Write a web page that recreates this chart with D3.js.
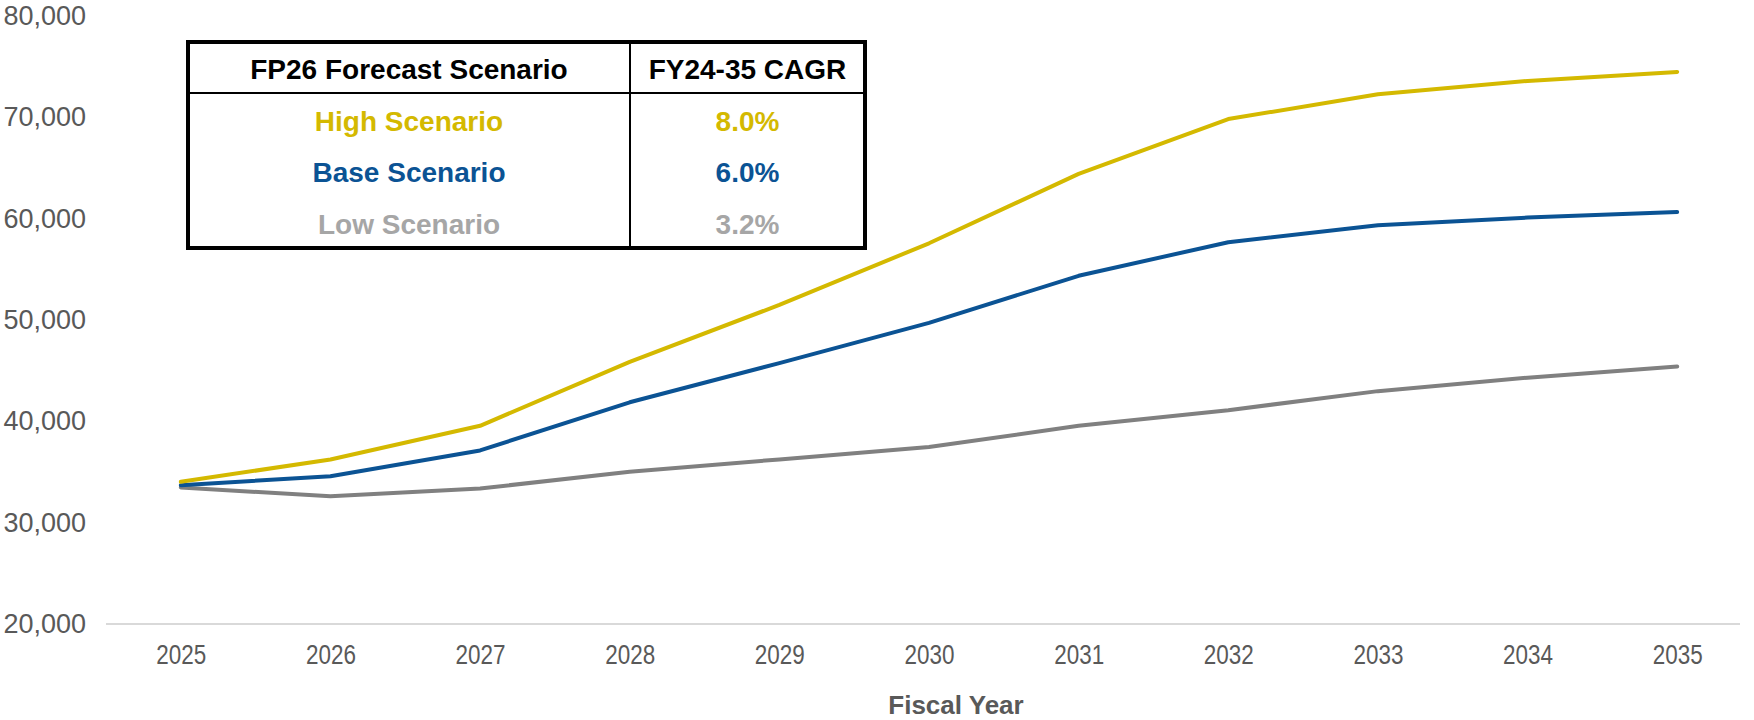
<!DOCTYPE html>
<html>
<head>
<meta charset="utf-8">
<script src="https://cdn.jsdelivr.net/npm/d3@7"></script>
<style>
  body { margin: 0; background: #fff; }
  text { font-family: Arial, "Liberation Sans", sans-serif; }
</style>
</head>
<body>
<script>
// Chart data
var years = ["2025", "2026", "2027", "2028", "2029", "2030", "2031", "2032", "2033", "2034", "2035"];
var highValues = [34030, 36240, 39560, 45860, 51490, 57570, 64420, 69830, 72270, 73590, 74480];
var baseValues = [33700, 34590, 37130, 41880, 45750, 49720, 54360, 57680, 59340, 60110, 60660];
var lowValues = [33480, 32600, 33370, 35030, 36240, 37460, 39560, 41100, 42980, 44310, 45410];
var yTicks = [20000, 30000, 40000, 50000, 60000, 70000, 80000];

// Table in the corner
var tableHeader = ["FP26 Forecast Scenario", "FY24-35 CAGR"];
var scenarioNames = ["High Scenario", "Base Scenario", "Low Scenario"];
var cagrLabels = ["8.0%", "6.0%", "3.2%"];

var lineColors = ["#d4b900", "#0b5394", "#808080"];
var tableTextColors = ["#d4b900", "#0b5394", "#a6a6a6"];

// SVG size
var svg_Width = 1754;
var svg_Height = 720;

var svg = d3.select("body")
  .append("svg")
  .attr("width", svg_Width)
  .attr("height", svg_Height);

// Scales
var x_scale = d3.scalePoint()
  .domain(years)
  .range([106, 1752])
  .padding(0.5);

var y_scale = d3.scaleLinear()
  .domain([20000, 80000])
  .range([624, 16]);

// Baseline
svg.append("line")
  .attr("x1", 106)
  .attr("x2", 1740)
  .attr("y1", y_scale(20000))
  .attr("y2", y_scale(20000))
  .attr("stroke", "#d9d9d9")
  .attr("stroke-width", 2);

// Y axis labels
var left_Axis = d3.axisLeft(y_scale)
  .tickValues(yTicks)
  .tickFormat(d3.format(","))
  .tickSize(0)
  .tickPadding(0);

svg.append("g")
  .attr("transform", "translate(86, 0)")
  .call(left_Axis)
  .call(g => g.select(".domain").remove())
  .selectAll("text")
  .attr("fill", "#595959")
  .style("font-size", "27px");

// X axis labels (narrow, tall digits like the original)
var bottom_Axis = d3.axisBottom(x_scale)
  .tickSize(0)
  .tickPadding(0);

svg.append("g")
  .attr("transform", "translate(0, 645)")
  .call(bottom_Axis)
  .call(g => g.select(".domain").remove())
  .selectAll("text")
  .attr("fill", "#595959")
  .attr("textLength", 50)
  .attr("lengthAdjust", "spacingAndGlyphs")
  .style("font-size", "27px");

// Axis title
svg.append("text")
  .attr("x", 956)
  .attr("y", 714)
  .attr("text-anchor", "middle")
  .attr("fill", "#595959")
  .style("font-size", "26px")
  .style("font-weight", "bold")
  .text("Fiscal Year");

// Lines
var series = [highValues, baseValues, lowValues];

var lineGen = d3.line()
  .x((d, i) => x_scale(years[i]))
  .y(d => y_scale(d));

// draw low first so high sits on top like the original
[2, 1, 0].forEach(function(k) {
  svg.append("path")
    .datum(series[k])
    .attr("d", lineGen)
    .attr("fill", "none")
    .attr("stroke", lineColors[k])
    .attr("stroke-width", 4)
    .attr("stroke-linecap", "round")
    .attr("stroke-linejoin", "round");
});

// Scenario table
var tbl = { left: 188, top: 42, right: 865, bottom: 248, split: 630, headBottom: 93 };

svg.append("rect")
  .attr("x", tbl.left)
  .attr("y", tbl.top)
  .attr("width", tbl.right - tbl.left)
  .attr("height", tbl.bottom - tbl.top)
  .attr("fill", "#fff")
  .attr("stroke", "#000")
  .attr("stroke-width", 4);

svg.append("line")
  .attr("x1", tbl.left).attr("x2", tbl.right)
  .attr("y1", tbl.headBottom).attr("y2", tbl.headBottom)
  .attr("stroke", "#000").attr("stroke-width", 2);

svg.append("line")
  .attr("x1", tbl.split).attr("x2", tbl.split)
  .attr("y1", tbl.top).attr("y2", tbl.bottom)
  .attr("stroke", "#000").attr("stroke-width", 2);

var col1 = (tbl.left + tbl.split) / 2;
var col2 = (tbl.split + tbl.right) / 2;

svg.append("text")
  .attr("x", col1).attr("y", 69)
  .attr("dy", "0.35em")
  .attr("text-anchor", "middle")
  .style("font-size", "28px").style("font-weight", "bold")
  .text(tableHeader[0]);

svg.append("text")
  .attr("x", col2).attr("y", 69)
  .attr("dy", "0.35em")
  .attr("text-anchor", "middle")
  .style("font-size", "28px").style("font-weight", "bold")
  .text(tableHeader[1]);

var rowY = [121, 172, 224];

scenarioNames.forEach(function(name, i) {
  svg.append("text")
    .attr("x", col1).attr("y", rowY[i])
    .attr("dy", "0.35em")
    .attr("text-anchor", "middle")
    .attr("fill", tableTextColors[i])
    .style("font-size", "28px").style("font-weight", "bold")
    .text(name);

  svg.append("text")
    .attr("x", col2).attr("y", rowY[i])
    .attr("dy", "0.35em")
    .attr("text-anchor", "middle")
    .attr("fill", tableTextColors[i])
    .style("font-size", "28px").style("font-weight", "bold")
    .text(cagrLabels[i]);
});
</script>
</body>
</html>
